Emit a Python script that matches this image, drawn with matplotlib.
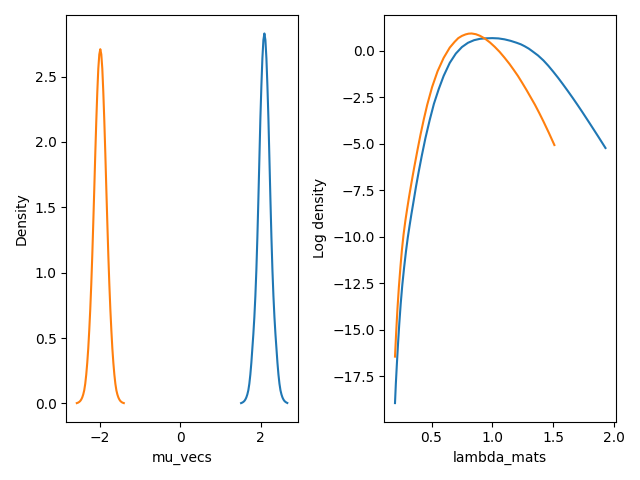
import numpy as np
import matplotlib
matplotlib.use("Agg")
import matplotlib.pyplot as plt

# density of mu (left panel)
mu_orange_x = [-2.58, -2.545, -2.52, -2.495, -2.47, -2.445, -2.42, -2.395, -2.37, -2.345, -2.32, -2.295,
               -2.27, -2.245, -2.22, -2.195, -2.17, -2.145, -2.12, -2.095, -2.07, -2.045, -2.02, -1.995,
               -1.97, -1.945, -1.92, -1.895, -1.87, -1.845, -1.82, -1.795, -1.77, -1.745, -1.72, -1.695,
               -1.67, -1.645, -1.62, -1.595, -1.57, -1.545, -1.52, -1.495, -1.47, -1.445, -1.41]
mu_orange_y = [0.002, 0.006, 0.011, 0.018, 0.029, 0.045, 0.068, 0.10, 0.15, 0.22, 0.31, 0.42,
               0.56, 0.72, 0.91, 1.13, 1.38, 1.64, 1.91, 2.16, 2.38, 2.56, 2.67, 2.71,
               2.67, 2.56, 2.38, 2.16, 1.91, 1.64, 1.38, 1.13, 0.91, 0.72, 0.56, 0.42,
               0.31, 0.22, 0.15, 0.10, 0.068, 0.045, 0.029, 0.018, 0.011, 0.006, 0.002]

mu_blue_x = [1.51, 1.54, 1.565, 1.59, 1.615, 1.64, 1.665, 1.69, 1.715, 1.74, 1.765, 1.79,
             1.815, 1.84, 1.865, 1.89, 1.915, 1.94, 1.965, 1.99, 2.015, 2.04, 2.065, 2.09,
             2.115, 2.14, 2.165, 2.19, 2.215, 2.24, 2.265, 2.29, 2.315, 2.34, 2.365, 2.39,
             2.415, 2.44, 2.465, 2.49, 2.515, 2.54, 2.565, 2.59, 2.615, 2.64, 2.66]
mu_blue_y = [0.002, 0.006, 0.011, 0.018, 0.029, 0.045, 0.068, 0.10, 0.15, 0.22, 0.31, 0.42,
             0.53, 0.66, 0.82, 1.02, 1.27, 1.56, 1.87, 2.18, 2.43, 2.64, 2.78, 2.83,
             2.78, 2.64, 2.43, 2.18, 1.87, 1.56, 1.27, 1.02, 0.82, 0.66, 0.53, 0.42,
             0.31, 0.22, 0.15, 0.10, 0.068, 0.045, 0.029, 0.018, 0.011, 0.006, 0.003]

# log density of lambda (right panel)
lam_blue_x = [0.200, 0.207, 0.215, 0.225, 0.235, 0.247, 0.260, 0.275, 0.290, 0.305, 0.320, 0.335,
              0.350, 0.372, 0.395, 0.420, 0.450, 0.485, 0.520, 0.560, 0.600, 0.650, 0.700, 0.750,
              0.800, 0.850, 0.900, 0.950, 1.000, 1.050, 1.100, 1.150, 1.200, 1.235, 1.265, 1.300,
              1.330, 1.375, 1.420, 1.460, 1.500, 1.540, 1.580, 1.620, 1.660, 1.700, 1.740, 1.770,
              1.800, 1.835, 1.870, 1.900, 1.930]
lam_blue_y = [-18.95, -17.9, -16.9, -15.75, -14.7, -13.6, -12.6, -11.65, -10.8, -10.05, -9.4, -8.78,
              -8.2, -7.33, -6.5, -5.65, -4.7, -3.73, -2.85, -2.05, -1.35, -0.65, -0.15, 0.20,
              0.43, 0.57, 0.645, 0.67, 0.68, 0.665, 0.615, 0.535, 0.43, 0.345, 0.246, 0.113,
              -0.03, -0.25, -0.52, -0.805, -1.12, -1.45, -1.80, -2.16, -2.53, -2.91, -3.30, -3.60,
              -3.90, -4.255, -4.61, -4.92, -5.23]

lam_orange_x = [0.200, 0.210, 0.220, 0.232, 0.245, 0.257, 0.270, 0.285, 0.300, 0.315, 0.330, 0.345,
                0.360, 0.385, 0.410, 0.437, 0.465, 0.505, 0.550, 0.600, 0.650, 0.690, 0.720, 0.750,
                0.780, 0.805, 0.830, 0.865, 0.900, 0.940, 0.980, 1.020, 1.060, 1.100, 1.140, 1.175,
                1.210, 1.245, 1.280, 1.315, 1.350, 1.385, 1.420, 1.465, 1.510]
lam_orange_y = [-16.45, -15.1, -13.9, -12.7, -11.6, -10.7, -9.9, -9.15, -8.5, -7.88, -7.3, -6.74,
                -6.2, -5.33, -4.5, -3.68, -2.9, -1.95, -1.1, -0.38, 0.17, 0.48, 0.68, 0.80,
                0.88, 0.92, 0.93, 0.89, 0.80, 0.65, 0.45, 0.21, -0.06, -0.37, -0.70, -1.02,
                -1.35, -1.72, -2.10, -2.50, -2.90, -3.34, -3.80, -4.42, -5.07]

fig, (ax1, ax2) = plt.subplots(1, 2, figsize=(6.4, 4.8))

ax1.plot(mu_blue_x, mu_blue_y)
ax1.plot(mu_orange_x, mu_orange_y)
ax1.set_xlabel("mu_vecs")
ax1.set_ylabel("Density")

ax2.plot(lam_blue_x, lam_blue_y)
ax2.plot(lam_orange_x, lam_orange_y)
ax2.set_xlabel("lambda_mats")
ax2.set_ylabel("Log density")

plt.tight_layout()
plt.savefig("out.png", dpi=100)
